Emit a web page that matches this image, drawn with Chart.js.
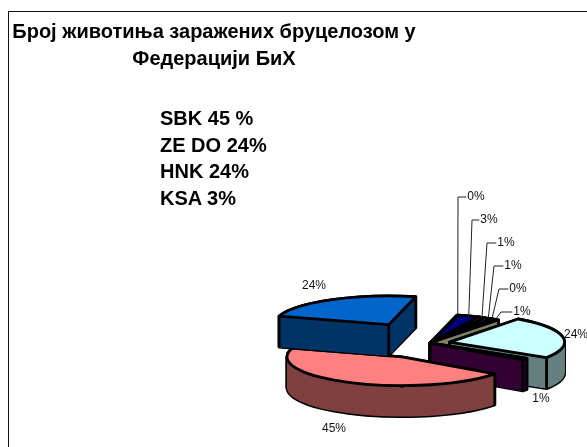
<!DOCTYPE html>
<html>
<head>
<meta charset="utf-8">
<script src="https://cdn.jsdelivr.net/npm/chart.js@4"></script>
<style>
  html, body { margin: 0; padding: 0; background: #fff; overflow: hidden; }
  #page { position: relative; width: 587px; height: 447px; overflow: hidden; font-family: "Liberation Sans", Arial, sans-serif; color: #000; }
  #frame { position: absolute; left: 8px; top: 11px; width: 700px; height: 600px; border: 1px solid #111; }
  #title { position: absolute; left: 0; top: 18px; width: 428px; text-align: center; font-weight: bold; font-size: 20px; line-height: 26.5px; white-space: nowrap; }
  #notes { position: absolute; left: 160px; top: 105px; font-weight: bold; font-size: 20px; line-height: 26.7px; }
  canvas { position: absolute; left: 0; top: 0; }
</style>
</head>
<body>
<div id="page">
  <div id="frame"></div>
  <canvas id="pieChart" width="587" height="447"></canvas>
  <div id="title">Број животиња заражених бруцелозом у<br>Федерацији БиХ</div>
  <div id="notes">SBK 45 %<br>ZE DO 24%<br>HNK 24%<br>KSA 3%</div>
</div>
<script>
// Slices in clockwise order, also the order they get painted in
const sliceLabels = ['0%', '3%', '1%', '1%', '0%', '1%', '24%', '1%', '45%', '24%'];
const sliceValues = [0.2, 3, 1, 1, 0.2, 1, 24, 1, 45, 24];
const sliceColors = ['#CCCCFF', '#000080', '#FF00FF', '#9999FF', '#993366', '#FFFFCC', '#CCFFFF', '#660066', '#FF8080', '#0066CC'];
const sideColors = ['#666680', '#000040', '#800080', '#4D4D80', '#4D1A33', '#808066', '#668080', '#330033', '#804040', '#003366'];
const sliceOffsets = [0, 0, 0, 0, 0, 0, 20, 0, 62, 84];

// Where the percent labels sit, and the elbow of the leader lines (null = no leader)
const labelSpots = [[476, 197], [489, 220], [506, 243], [513, 266], [518, 289], [522, 312], [576, 335], [541, 399], [334, 429], [314, 286]];
const leaderElbows = [458, 472, 487, 494, 499, 501, null, null, null, null];

const squash = 0.25;
const depth = 31;

function sliceGeometry(arc) {
  const mid = (arc.startAngle + arc.endAngle) / 2;
  const off = arc.options.offset || 0;
  return {
    x: arc.x + Math.cos(mid) * off,
    y: arc.y + Math.sin(mid) * off * squash,
    r: arc.outerRadius,
    start: arc.startAngle,
    end: arc.endAngle
  };
}

function slicePath(ctx, g, dy) {
  ctx.beginPath();
  ctx.moveTo(g.x, g.y + dy);
  ctx.ellipse(g.x, g.y + dy, g.r, g.r * squash, 0, g.start, g.end);
  ctx.closePath();
}

function rimPoint(g, angle) {
  return [g.x + Math.cos(angle) * g.r, g.y + Math.sin(angle) * g.r * squash];
}

function drawSlice(ctx, arc, i) {
  const g = sliceGeometry(arc);
  const a = rimPoint(g, g.start);
  const b = rimPoint(g, g.end);
  ctx.lineJoin = 'round';

  // black silhouette of the extruded slice first, then the dark side on top of it
  ctx.strokeStyle = '#000';
  ctx.lineWidth = 2.8;
  for (let dy = depth; dy >= 0; dy--) {
    slicePath(ctx, g, dy);
    ctx.stroke();
  }
  ctx.fillStyle = sideColors[i];
  for (let dy = depth; dy >= 0; dy--) {
    slicePath(ctx, g, dy);
    ctx.fill();
  }
  // the two cut faces, thin slices leave black gaps in the stack otherwise
  [a, b].forEach(p => {
    ctx.beginPath();
    ctx.moveTo(g.x, g.y);
    ctx.lineTo(p[0], p[1]);
    ctx.lineTo(p[0], p[1] + depth);
    ctx.lineTo(g.x, g.y + depth);
    ctx.closePath();
    ctx.fill();
  });

  // vertical edges, only where the wall next to the corner faces the viewer
  ctx.beginPath();
  ctx.moveTo(g.x, g.y);
  ctx.lineTo(g.x, g.y + depth);
  if (Math.sin(g.start) > 0 || Math.cos(g.start) < 0) {
    ctx.moveTo(a[0], a[1]);
    ctx.lineTo(a[0], a[1] + depth);
  }
  if (Math.sin(g.end) > 0 || Math.cos(g.end) > 0) {
    ctx.moveTo(b[0], b[1]);
    ctx.lineTo(b[0], b[1] + depth);
  }
  ctx.stroke();

  // top face
  slicePath(ctx, g, 0);
  ctx.fillStyle = sliceColors[i];
  ctx.fill();
  ctx.stroke();
}

function drawLabels(ctx, arcs) {
  ctx.font = '12px "Liberation Sans", Arial, sans-serif';
  ctx.textAlign = 'center';
  ctx.textBaseline = 'middle';
  arcs.forEach((arc, i) => {
    const spot = labelSpots[i];
    const elbow = leaderElbows[i];
    if (elbow !== null) {
      const g = sliceGeometry(arc);
      const mid = rimPoint(g, (g.start + g.end) / 2);
      const textW = ctx.measureText(sliceLabels[i]).width;
      ctx.beginPath();
      ctx.moveTo(mid[0], mid[1]);
      ctx.lineTo(elbow, spot[1]);
      ctx.lineTo(spot[0] - textW / 2 - 1, spot[1]);
      ctx.strokeStyle = '#222';
      ctx.lineWidth = 1;
      ctx.stroke();
    }
    ctx.fillStyle = '#111';
    ctx.fillText(sliceLabels[i], spot[0], spot[1]);
  });
}

// Chart.js has no 3D pie, so the arcs it lays out get flattened and extruded here
const pie3d = {
  id: 'pie3d',
  beforeDatasetDraw(chart) {
    const ctx = chart.ctx;
    const arcs = chart.getDatasetMeta(0).data;
    ctx.save();
    arcs.forEach((arc, i) => drawSlice(ctx, arc, i));
    drawLabels(ctx, arcs);
    ctx.restore();
    return false;
  }
};

new Chart(document.getElementById('pieChart'), {
  type: 'pie',
  data: {
    labels: sliceLabels,
    datasets: [{
      data: sliceValues,
      backgroundColor: sliceColors,
      offset: sliceOffsets,
      borderWidth: 2,
      borderColor: '#000'
    }]
  },
  options: {
    responsive: false,
    animation: false,
    rotation: 13.6,
    radius: 115,
    layout: { padding: { left: 273, top: 239 } },
    plugins: {
      legend: { display: false },
      tooltip: { enabled: false }
    }
  },
  plugins: [pie3d]
});
</script>
</body>
</html>
